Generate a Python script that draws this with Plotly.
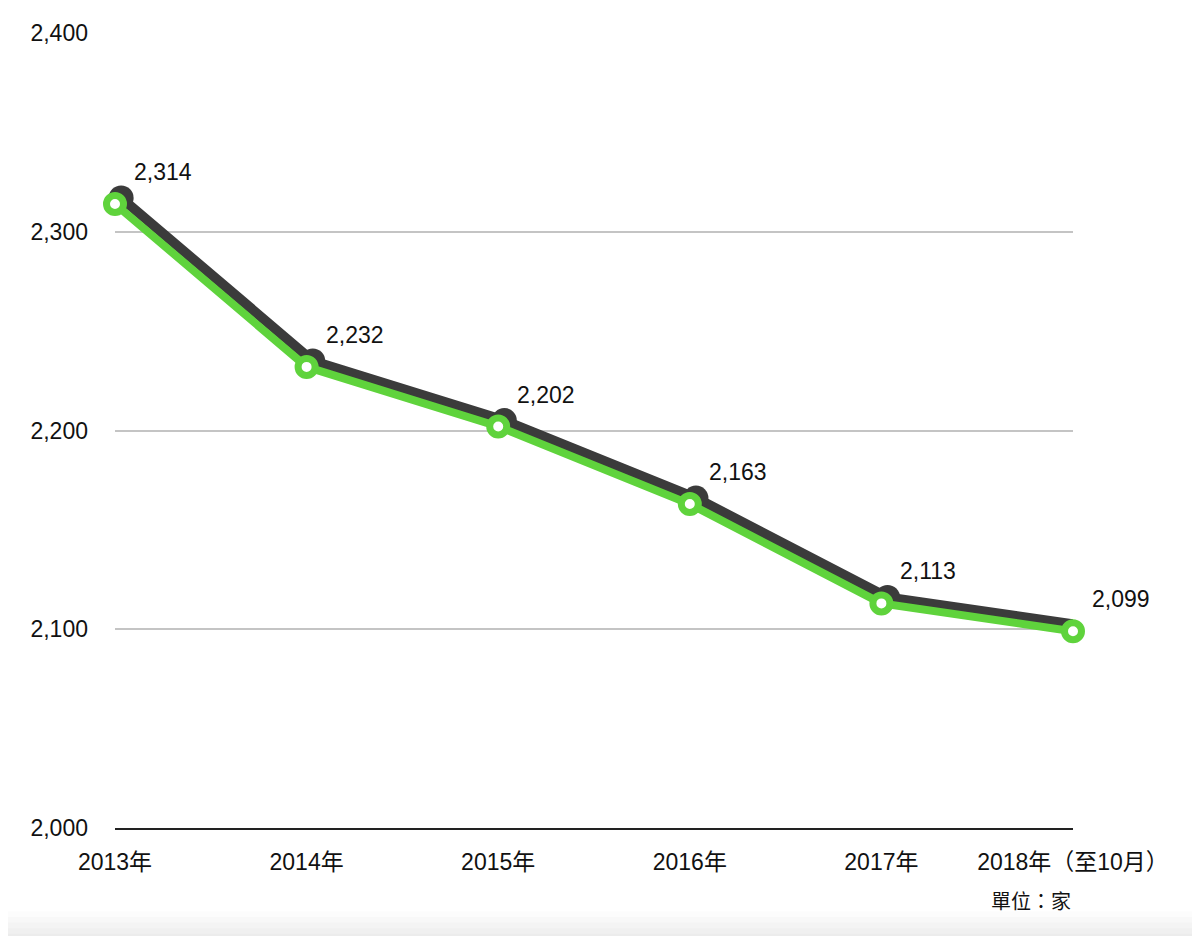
import plotly.graph_objects as go

years = ["2013年", "2014年", "2015年", "2016年", "2017年", "2018年（至10月）"]
counts = [2314, 2232, 2202, 2163, 2113, 2099]
y_ticks = [2000, 2100, 2200, 2300, 2400]
y_tick_labels = ["2,000", "2,100", "2,200", "2,300", "2,400"]

GREEN = "#5fd33c"
SHADOW = "#3b3b3b"
FONT = "Liberation Sans, Arial, Noto Sans CJK TC, sans-serif"

fig = go.Figure()

# empty trace so the main axes (grid, ticks) get drawn
fig.add_trace(go.Scatter(x=years, y=counts, mode="none", hoverinfo="skip"))

# dark shadow line, drawn on offset axes (a few px right and up)
fig.add_trace(
    go.Scatter(
        x=years,
        y=counts,
        xaxis="x2",
        yaxis="y2",
        mode="lines+markers",
        line=dict(color=SHADOW, width=10),
        marker=dict(size=25, color=SHADOW),
        cliponaxis=False,
        hoverinfo="skip",
    )
)
# green line on top
fig.add_trace(
    go.Scatter(
        x=years,
        y=counts,
        xaxis="x3",
        yaxis="y3",
        mode="lines+markers",
        line=dict(color=GREEN, width=8),
        marker=dict(size=17, color="white", line=dict(color=GREEN, width=7)),
        cliponaxis=False,
    )
)

for yr, v in zip(years, counts):
    fig.add_annotation(
        x=yr, y=v, xref="x", yref="y",
        text=f"{v:,}", showarrow=False,
        xanchor="left", yanchor="middle",
        xshift=17, yshift=32,
        font=dict(size=23, color="#111111"),
    )

# unit note
fig.add_annotation(
    x=1, y=-0.093, xref="paper", yref="paper",
    text="單位：家", showarrow=False,
    xanchor="right", yanchor="middle",
    font=dict(size=20, color="#111111"),
)

# faint grey band along the bottom edge
for i, col in enumerate(["#fcfcfc", "#f8f8f8", "#f4f4f4", "#f0f0f0", "#ececec"]):
    fig.add_shape(
        type="rect", xref="paper", yref="paper", layer="below",
        x0=-0.2, x1=1.2, y0=-0.105 - i * 0.007, y1=-0.2,
        fillcolor=col, line=dict(width=0),
    )

dx = 0.032
dy = 3.0
fig.update_layout(
    width=1200,
    height=936,
    margin=dict(l=107, r=135, t=25, b=116),
    plot_bgcolor="white",
    paper_bgcolor="white",
    showlegend=False,
    font=dict(family=FONT, size=22, color="#111111"),
    xaxis=dict(
        type="category",
        categoryarray=years,
        range=[0, 5],
        showgrid=False,
        showline=True,
        linecolor="#222222",
        linewidth=2,
        ticks="",
        ticklabelstandoff=12,
        tickfont=dict(size=23),
        zeroline=False,
    ),
    yaxis=dict(
        range=[2000, 2400],
        tickvals=y_ticks,
        ticktext=y_tick_labels,
        showgrid=True,
        gridcolor="#c4c4c4",
        gridwidth=2,
        showline=False,
        zeroline=False,
        ticks="",
        ticklabelstandoff=26,
        tickfont=dict(size=23),
    ),
    xaxis2=dict(
        type="category",
        categoryarray=years,
        range=[-dx, 5 - dx],
        overlaying="x",
        visible=False,
    ),
    yaxis2=dict(
        range=[2000 - dy, 2400 - dy],
        overlaying="y",
        visible=False,
    ),
    xaxis3=dict(
        type="category",
        categoryarray=years,
        range=[0, 5],
        overlaying="x",
        visible=False,
    ),
    yaxis3=dict(
        range=[2000, 2400],
        overlaying="y",
        visible=False,
    ),
)

fig.write_html("out.html")
